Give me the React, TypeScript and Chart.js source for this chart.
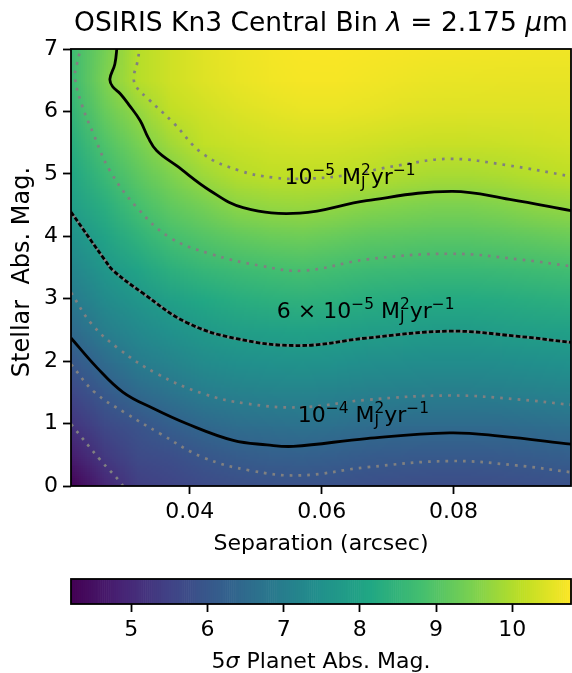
import React, { useEffect, useRef } from 'react';
import { Chart, registerables } from 'chart.js';

Chart.register(...registerables);

// ---------------- data ----------------
const separations = [0.022, 0.027, 0.032, 0.037, 0.042, 0.047, 0.052, 0.057, 0.062, 0.067, 0.072, 0.077, 0.082, 0.087, 0.092, 0.097];
const stellarMags = [0, 0.5, 1, 1.5, 2, 2.5, 3, 3.5, 4, 4.5, 5, 5.5, 6, 6.5, 7];
// 5-sigma planet absolute magnitude, one row per stellar magnitude (rows follow stellarMags)
const planetMagRows = [
  [4.25, 4.90, 5.42, 5.55, 5.70, 5.78, 5.84, 5.87, 5.85, 5.80, 5.76, 5.73, 5.73, 5.76, 5.80, 5.84],
  [4.75, 5.31, 5.68, 5.80, 5.99, 6.12, 6.20, 6.23, 6.18, 6.10, 6.07, 6.05, 6.05, 6.07, 6.12, 6.18],
  [5.22, 5.66, 5.92, 6.21, 6.45, 6.60, 6.66, 6.70, 6.65, 6.56, 6.53, 6.52, 6.52, 6.53, 6.58, 6.62],
  [5.61, 6.05, 6.46, 6.73, 6.97, 7.06, 7.12, 7.14, 7.10, 7.05, 7.02, 7.00, 7.00, 7.03, 7.08, 7.12],
  [6.02, 6.53, 6.95, 7.16, 7.35, 7.46, 7.51, 7.55, 7.51, 7.45, 7.42, 7.39, 7.39, 7.42, 7.47, 7.51],
  [6.47, 7.00, 7.29, 7.53, 7.73, 7.87, 7.92, 7.97, 7.92, 7.86, 7.82, 7.78, 7.78, 7.82, 7.88, 7.92],
  [6.88, 7.33, 7.64, 7.93, 8.15, 8.28, 8.36, 8.41, 8.36, 8.28, 8.24, 8.21, 8.21, 8.24, 8.30, 8.35],
  [7.21, 7.66, 8.02, 8.37, 8.58, 8.70, 8.79, 8.85, 8.78, 8.70, 8.67, 8.63, 8.63, 8.66, 8.73, 8.78],
  [7.52, 7.99, 8.43, 8.81, 9.00, 9.16, 9.26, 9.31, 9.23, 9.13, 9.09, 9.06, 9.06, 9.10, 9.18, 9.26],
  [7.85, 8.31, 8.82, 9.16, 9.40, 9.63, 9.72, 9.76, 9.69, 9.59, 9.53, 9.48, 9.48, 9.54, 9.65, 9.72],
  [8.10, 8.63, 9.11, 9.50, 9.81, 10.04, 10.13, 10.14, 10.12, 10.07, 9.98, 9.91, 9.91, 9.96, 10.05, 10.12],
  [8.30, 8.93, 9.41, 9.84, 10.16, 10.25, 10.32, 10.36, 10.35, 10.31, 10.26, 10.23, 10.23, 10.24, 10.28, 10.32],
  [8.50, 9.23, 9.70, 10.14, 10.30, 10.42, 10.50, 10.57, 10.57, 10.53, 10.48, 10.45, 10.44, 10.44, 10.44, 10.45],
  [8.65, 9.48, 10.05, 10.30, 10.45, 10.57, 10.65, 10.70, 10.70, 10.66, 10.62, 10.58, 10.57, 10.56, 10.55, 10.55],
  [8.70, 9.38, 10.05, 10.30, 10.48, 10.60, 10.68, 10.73, 10.74, 10.72, 10.70, 10.68, 10.67, 10.66, 10.65, 10.65],
];

// contour lines [separation, stellar mag]
const contour1e5 = [[0.0290, 7.06], [0.02865, 6.76], [0.0279, 6.52], [0.0283, 6.40], [0.0295, 6.28], [0.0309, 6.09], [0.0325, 5.85], [0.0337, 5.58], [0.0350, 5.37], [0.038, 5.13], [0.0431, 4.73], [0.0481, 4.46], [0.0567, 4.37], [0.0668, 4.57], [0.0797, 4.72], [0.0885, 4.59], [0.0978, 4.41]];
const contour6e5 = [[0.022, 4.39], [0.0272, 3.61], [0.0284, 3.45], [0.033, 3.08], [0.0395, 2.62], [0.0471, 2.36], [0.0567, 2.25], [0.0668, 2.37], [0.0794, 2.48], [0.0895, 2.40], [0.0978, 2.30]];
const contour1e4 = [[0.022, 2.37], [0.0259, 1.90], [0.0299, 1.50], [0.0345, 1.24], [0.0395, 1.00], [0.0466, 0.73], [0.0517, 0.66], [0.0557, 0.635], [0.0668, 0.76], [0.0794, 0.85], [0.087, 0.80], [0.0978, 0.67]];
const dottedA = [[0.0325, 7.06], [0.0320, 6.76], [0.0315, 6.54], [0.0320, 6.38], [0.0337, 6.20], [0.0375, 5.82], [0.042, 5.32], [0.0476, 5.05], [0.0527, 4.94], [0.0567, 4.92], [0.0632, 4.97], [0.0719, 5.14], [0.0795, 5.24], [0.088, 5.14], [0.0978, 4.96]];
const dottedB = [[0.0236, 7.06], [0.0229, 6.76], [0.0226, 6.54], [0.0236, 6.12], [0.0254, 5.64], [0.0279, 5.05], [0.032, 4.46], [0.037, 3.98], [0.0431, 3.72], [0.0506, 3.53], [0.0572, 3.45], [0.0669, 3.63], [0.0796, 3.72], [0.0899, 3.63], [0.0978, 3.52]];
const dottedC = [[0.022, 3.10], [0.0251, 2.60], [0.0292, 2.20], [0.035, 1.80], [0.042, 1.48], [0.0486, 1.32], [0.0567, 1.26], [0.0668, 1.38], [0.0794, 1.45], [0.0895, 1.39], [0.0978, 1.30]];
const dottedD = [[0.022, 1.95], [0.0256, 1.50], [0.0304, 1.16], [0.0355, 0.84], [0.042, 0.46], [0.0491, 0.25], [0.0567, 0.17], [0.0668, 0.30], [0.0794, 0.40], [0.0895, 0.33], [0.0978, 0.22]];
const dottedE = [[0.022, 0.99], [0.0265, 0.41], [0.0295, 0.06], [0.0301, -0.05]];

// contour labels: [left separation, baseline stellar mag, prefix, exponent]
const contourLabels: [number, number, string, string][] = [
  [0.05435, 4.84, '10', '\u22125'],
  [0.05321, 2.695, '6 \u00d7 10', '\u22125'],
  [0.05639, 1.03, '10', '\u22124'],
];

const xTickValues = [0.04, 0.06, 0.08];
const yTickValues = [0, 1, 2, 3, 4, 5, 6, 7];
const colorTickValues = [5, 6, 7, 8, 9, 10];
const xRange = [0.022, 0.0978];
const yRange = [0, 7];
const colorRange = [4.21, 10.77];

const TITLE = 'OSIRIS Kn3 Central Bin ';
const X_LABEL = 'Separation (arcsec)';
const Y_LABEL = 'Stellar  Abs. Mag.';

// ---------------- helpers ----------------
const VIRIDIS = [
  [68, 1, 84], [72, 36, 117], [65, 68, 135], [53, 95, 141], [42, 120, 142], [33, 145, 140],
  [34, 168, 132], [68, 191, 112], [122, 209, 81], [189, 223, 38], [253, 231, 37],
];
function viridis(t: number): number[] {
  const c = Math.max(0, Math.min(1, t)) * (VIRIDIS.length - 1);
  const i = Math.min(VIRIDIS.length - 2, Math.floor(c));
  const f = c - i;
  const a = VIRIDIS[i], b = VIRIDIS[i + 1];
  return [a[0] + (b[0] - a[0]) * f, a[1] + (b[1] - a[1]) * f, a[2] + (b[2] - a[2]) * f];
}
const FAM = '"DejaVu Sans"';
const font = (size: number, italic = false) => `${italic ? 'italic ' : ''}${size}px ${FAM}`;
const toXY = (arr: number[][]) => arr.map(([x, y]) => ({ x, y }));

function drawParts(ctx: CanvasRenderingContext2D, cx: number, baseline: number, parts: { t: string; size: number; it?: boolean }[]) {
  let total = 0;
  parts.forEach(p => { ctx.font = font(p.size, p.it); total += ctx.measureText(p.t).width; });
  let x = cx - total / 2;
  ctx.textAlign = 'left';
  ctx.textBaseline = 'alphabetic';
  parts.forEach(p => { ctx.font = font(p.size, p.it); ctx.fillText(p.t, x, baseline); x += ctx.measureText(p.t).width; });
}

function drawRateLabel(ctx: CanvasRenderingContext2D, x0: number, y0: number, prefix: string, exp: string) {
  const main = 22, sup = 15.4, up = 9, down = 4.5;
  ctx.fillStyle = '#000';
  ctx.textAlign = 'left';
  ctx.textBaseline = 'alphabetic';
  let x = x0;
  ctx.font = font(main); ctx.fillText(prefix, x, y0); x += ctx.measureText(prefix).width;
  ctx.font = font(sup); ctx.fillText(exp, x, y0 - up); x += ctx.measureText(exp).width;
  ctx.font = font(main); x += ctx.measureText(' ').width;
  ctx.fillText('M', x, y0); x += ctx.measureText('M').width;
  ctx.font = font(sup);
  const w2 = ctx.measureText('2').width, wJ = ctx.measureText('J').width;
  ctx.fillText('2', x, y0 - up); ctx.fillText('J', x, y0 + down); x += Math.max(w2, wJ);
  ctx.font = font(main); ctx.fillText('yr', x, y0); x += ctx.measureText('yr').width;
  ctx.font = font(sup); ctx.fillText('\u22121', x, y0 - up);
}

const heatmapPlugin = {
  id: 'heatmap',
  beforeDatasetsDraw(chart: any) {
    const { ctx, chartArea: a, scales: { x, y } } = chart;
    const nx = separations.length, ny = stellarMags.length;
    const off = document.createElement('canvas');
    off.width = nx; off.height = ny;
    const octx = off.getContext('2d')!;
    const img = octx.createImageData(nx, ny);
    for (let j = 0; j < ny; j++) {
      const row = planetMagRows[ny - 1 - j];
      for (let i = 0; i < nx; i++) {
        const [r, g, b] = viridis((row[i] - colorRange[0]) / (colorRange[1] - colorRange[0]));
        const k = (j * nx + i) * 4;
        img.data[k] = r; img.data[k + 1] = g; img.data[k + 2] = b; img.data[k + 3] = 255;
      }
    }
    octx.putImageData(img, 0, 0);
    const dx = separations[1] - separations[0];
    const dy = stellarMags[1] - stellarMags[0];
    const left = x.getPixelForValue(separations[0] - dx / 2);
    const right = x.getPixelForValue(separations[nx - 1] + dx / 2);
    const top = y.getPixelForValue(stellarMags[ny - 1] + dy / 2);
    const bottom = y.getPixelForValue(stellarMags[0] - dy / 2);
    ctx.save();
    ctx.beginPath();
    ctx.rect(a.left, a.top, a.right - a.left, a.bottom - a.top);
    ctx.clip();
    ctx.imageSmoothingEnabled = true;
    (ctx as any).imageSmoothingQuality = 'low';
    ctx.drawImage(off, left, top, right - left, bottom - top);
    ctx.restore();
  },
  afterDatasetsDraw(chart: any) {
    const { ctx, chartArea: a, scales: { x, y } } = chart;
    ctx.save();
    contourLabels.forEach(([lx, ly, pre, ex]) => drawRateLabel(ctx, x.getPixelForValue(lx), y.getPixelForValue(ly), pre, ex));
    ctx.strokeStyle = '#000';
    ctx.lineWidth = 1.8;
    ctx.strokeRect(a.left, a.top, a.right - a.left, a.bottom - a.top);
    ctx.fillStyle = '#000';
    const cx = (a.left + a.right) / 2;
    drawParts(ctx, cx, 31, [
      { t: TITLE, size: 26.5 }, { t: '\u03bb', size: 26.5, it: true }, { t: ' = 2.175 ', size: 26.5 },
      { t: '\u03bc', size: 26.5, it: true }, { t: 'm', size: 26.5 },
    ]);
    drawParts(ctx, cx, 550, [{ t: X_LABEL, size: 22 }]);
    ctx.translate(29, 272);
    ctx.rotate(-Math.PI / 2);
    drawParts(ctx, 0, 0, [{ t: Y_LABEL, size: 24 }]);
    ctx.restore();
  },
};

const colorbarPlugin = {
  id: 'colorbar',
  beforeDatasetsDraw(chart: any) {
    const { ctx, chartArea: a, scales: { x } } = chart;
    const n = 256;
    ctx.save();
    for (let i = 0; i < n; i++) {
      const v0 = colorRange[0] + (colorRange[1] - colorRange[0]) * i / n;
      const v1 = colorRange[0] + (colorRange[1] - colorRange[0]) * (i + 1) / n;
      const [r, g, b] = viridis((i + 0.5) / n);
      ctx.fillStyle = `rgb(${r | 0},${g | 0},${b | 0})`;
      const p0 = x.getPixelForValue(v0), p1 = x.getPixelForValue(v1);
      ctx.fillRect(p0, a.top, p1 - p0 + 0.6, a.bottom - a.top);
    }
    ctx.strokeStyle = '#000';
    ctx.lineWidth = 1.8;
    ctx.strokeRect(a.left, a.top, a.right - a.left, a.bottom - a.top);
    ctx.fillStyle = '#000';
    drawParts(ctx, (a.left + a.right) / 2, 108, [
      { t: '5', size: 22 }, { t: '\u03c3', size: 22, it: true }, { t: ' Planet Abs. Mag.', size: 22 },
    ]);
    ctx.restore();
  },
};

const tickFont = { family: 'DejaVu Sans', size: 22 };

export default function App() {
  const mainRef = useRef<HTMLCanvasElement>(null);
  const cbRef = useRef<HTMLCanvasElement>(null);

  useEffect(() => {
    const dotted = (data: number[][]) => ({
      data: toXY(data), showLine: true, pointRadius: 0, borderColor: '#808080', borderWidth: 2.7,
      borderDash: [2.7, 6], borderCapStyle: 'butt', tension: 0.4, fill: false,
    });
    const solid = (data: number[][]) => ({
      data: toXY(data), showLine: true, pointRadius: 0, borderColor: '#000', borderWidth: 2.8,
      tension: 0.4, fill: false,
    });
    // Chart.js paints dataset 0 last (on top), so the black lines come first
    const main = new Chart(mainRef.current!, {
      type: 'scatter',
      data: {
        datasets: [
          solid(contour1e4), solid(contour1e5),
          { ...solid(contour6e5), borderDash: [4.5, 2.2] },
          { ...solid(contour6e5), borderColor: '#808080', borderWidth: 2.6 },
          dotted(dottedA), dotted(dottedB), dotted(dottedC), dotted(dottedD), dotted(dottedE),
        ] as any,
      },
      options: {
        responsive: false,
        animation: false,
        events: [],
        elements: { line: { capBezierPoints: false } },
        layout: { padding: { top: 49, right: 1, left: 0, bottom: 0 } },
        plugins: { legend: { display: false }, tooltip: { enabled: false }, title: { display: false } },
        scales: {
          x: {
            type: 'linear', min: xRange[0], max: xRange[1],
            afterBuildTicks: (s: any) => { s.ticks = xTickValues.map(v => ({ value: v })); },
            afterFit: (s: any) => { s.height = 74; },
            ticks: { font: tickFont, color: '#000', padding: 5, maxRotation: 0, callback: (v: any) => Number(v).toFixed(2) },
            grid: { drawOnChartArea: false, drawTicks: true, tickLength: 8, tickWidth: 1.8, tickColor: '#000' },
            border: { display: false },
          },
          y: {
            type: 'linear', min: yRange[0], max: yRange[1],
            afterBuildTicks: (s: any) => { s.ticks = yTickValues.map(v => ({ value: v })); },
            afterFit: (s: any) => { s.width = 71; },
            ticks: { font: tickFont, color: '#000', padding: 5, callback: (v: any) => String(v) },
            grid: { drawOnChartArea: false, drawTicks: true, tickLength: 8, tickWidth: 1.8, tickColor: '#000' },
            border: { display: false },
          },
        },
      } as any,
      plugins: [heatmapPlugin],
    });

    const cb = new Chart(cbRef.current!, {
      type: 'scatter',
      data: { datasets: [] },
      options: {
        responsive: false,
        animation: false,
        events: [],
        layout: { padding: { top: 19, right: 1, left: 71, bottom: 0 } },
        plugins: { legend: { display: false }, tooltip: { enabled: false } },
        scales: {
          x: {
            type: 'linear', min: colorRange[0], max: colorRange[1],
            afterBuildTicks: (s: any) => { s.ticks = colorTickValues.map(v => ({ value: v })); },
            afterFit: (s: any) => { s.height = 69; },
            ticks: { font: tickFont, color: '#000', padding: 5, maxRotation: 0, callback: (v: any) => String(v) },
            grid: { drawOnChartArea: false, drawTicks: true, tickLength: 8, tickWidth: 1.8, tickColor: '#000' },
            border: { display: false },
          },
          y: { display: false, min: 0, max: 1 },
        },
      } as any,
      plugins: [colorbarPlugin],
    });

    return () => { main.destroy(); cb.destroy(); };
  }, []);

  return (
    <div style={{ position: 'absolute', left: 0, top: 0, width: 572, height: 673, background: '#fff' }}>
      <canvas ref={mainRef} width={572} height={560} style={{ position: 'absolute', left: 0, top: 0 }} />
      <canvas ref={cbRef} width={572} height={113} style={{ position: 'absolute', left: 0, top: 560 }} />
    </div>
  );
}
